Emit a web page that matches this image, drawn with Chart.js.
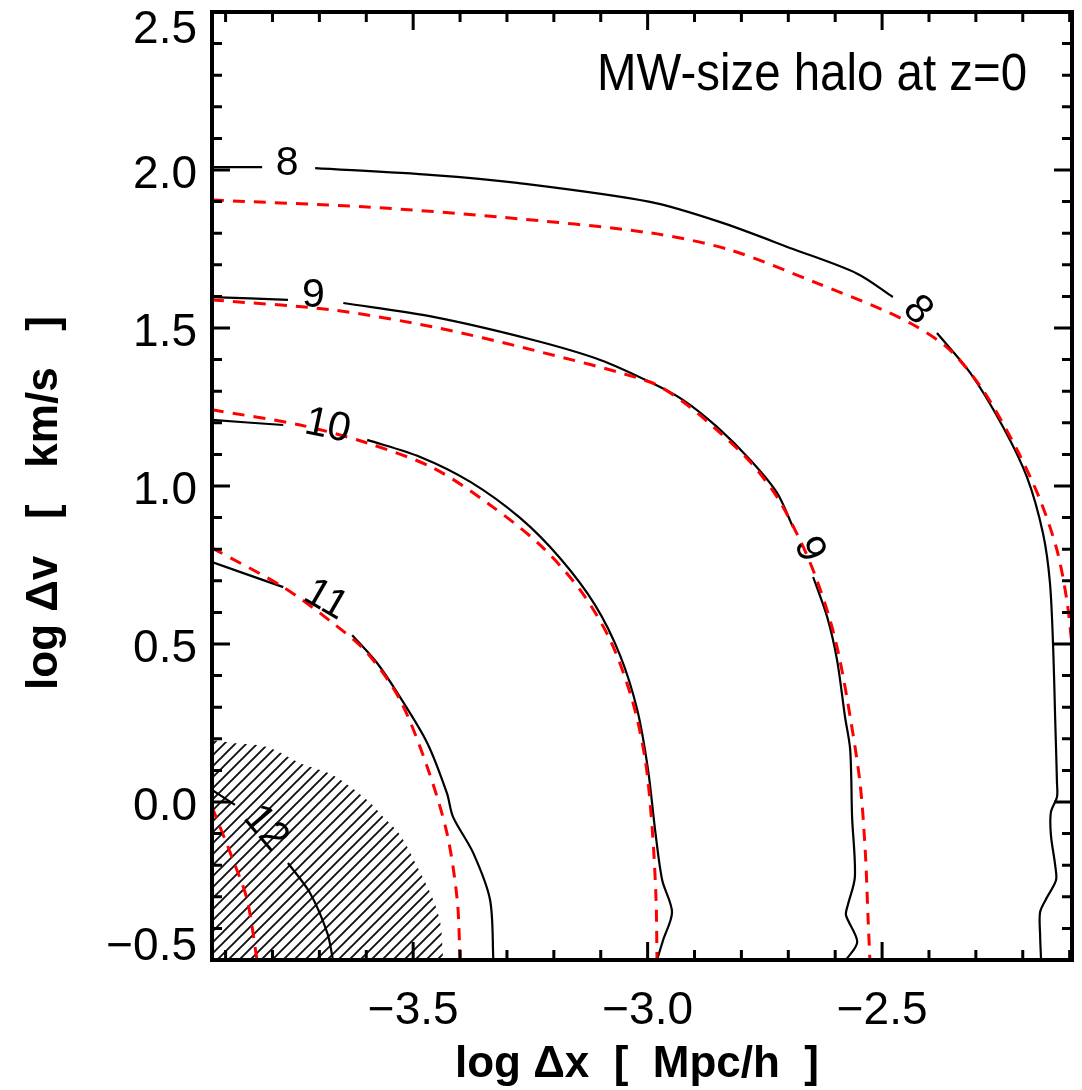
<!DOCTYPE html>
<html>
<head>
<meta charset="utf-8">
<script src="https://cdn.jsdelivr.net/npm/chart.js@4.4.1/dist/chart.umd.min.js"></script>
<style>
html,body{margin:0;padding:0;background:#fff;}
#wrap{width:1082px;height:1090px;position:relative;}
</style>
</head>
<body>
<div id="wrap"><canvas id="c" width="1082" height="1090"></canvas></div>
<script>
// ---------------- data ----------------
const xRange = [-3.929, -2.095];
const yRange = [-0.5, 2.5];
const xTickValues = [-3.5, -3.0, -2.5];
const yTickValues = [-0.5, 0.0, 0.5, 1.0, 1.5, 2.0, 2.5];
const xTitle = "log \u0394x  [  Mpc/h  ]";
const yTitle = "log \u0394v   [   km/s   ]";
const annotation = "MW-size halo at z=0";

// simulation contours (black, solid); null = gap left for the contour label
const sim8 = [[-3.929,2.009],[-3.822,2.009],null,
  [-3.709,2.006],[-3.457,1.984],[-3.278,1.959],[-2.995,1.899],[-2.845,1.835],[-2.690,1.750],[-2.553,1.672],[-2.477,1.598],null,
  [-2.383,1.484],[-2.312,1.358],[-2.242,1.187],[-2.191,1.028],[-2.157,0.851],[-2.142,0.693],[-2.135,0.481],[-2.131,0.269],
  [-2.127,0.060],[-2.127,0.016],[-2.140,-0.032],[-2.140,-0.104],[-2.131,-0.199],[-2.129,-0.247],[-2.148,-0.301],[-2.163,-0.348],[-2.163,-0.421],[-2.161,-0.5]];
const sim9 = [[-3.929,1.598],[-3.767,1.589],null,
  [-3.649,1.579],[-3.457,1.535],[-3.244,1.462],[-3.101,1.399],[-2.995,1.329],[-2.924,1.272],[-2.852,1.187],[-2.781,1.082],[-2.724,0.978],[-2.690,0.870],null,
  [-2.647,0.712],[-2.617,0.585],[-2.596,0.449],[-2.579,0.269],[-2.568,0.165],[-2.564,-0.047],[-2.558,-0.237],[-2.573,-0.326],[-2.577,-0.358],[-2.553,-0.443],[-2.577,-0.5]];
const sim10 = [[-3.929,1.209],[-3.777,1.193],null,
  [-3.598,1.146],[-3.485,1.092],[-3.378,1.013],[-3.272,0.899],[-3.187,0.772],[-3.112,0.623],[-3.059,0.465],[-3.022,0.291],
  [-2.999,0.101],[-2.984,-0.089],[-2.969,-0.247],[-2.948,-0.348],[-2.967,-0.437],[-2.980,-0.5]];
const sim11 = [[-3.929,0.759],[-3.777,0.680],null,
  [-3.630,0.528],[-3.577,0.440],[-3.528,0.332],[-3.470,0.187],[-3.428,0.028],[-3.415,-0.047],[-3.372,-0.161],[-3.336,-0.310],[-3.329,-0.5]];
const sim12 = [[-3.929,0.038],[-3.880,-0.009],null,
  [-3.767,-0.193],[-3.720,-0.288],[-3.683,-0.415],[-3.671,-0.5]];

// analytic contours (red, dashed)
const model8 = [[-3.929,1.905],[-3.598,1.883],[-3.315,1.851],[-2.995,1.801],[-2.824,1.747],[-2.639,1.642],[-2.498,1.557],[-2.425,1.503],
  [-2.355,1.430],[-2.285,1.304],[-2.212,1.114],[-2.163,0.956],[-2.127,0.797],[-2.106,0.639],[-2.095,0.497]];
const model9 = [[-3.929,1.589],[-3.671,1.557],[-3.457,1.503],[-3.244,1.430],[-2.995,1.329],[-2.924,1.266],[-2.852,1.177],[-2.781,1.076],
  [-2.724,0.965],[-2.675,0.829],[-2.643,0.718],[-2.611,0.576],[-2.590,0.449],[-2.568,0.269],[-2.547,0.060],[-2.536,-0.152],[-2.530,-0.364],[-2.526,-0.5]];
const model10 = [[-3.929,1.241],[-3.741,1.193],[-3.598,1.136],[-3.457,1.057],[-3.336,0.940],[-3.229,0.813],[-3.144,0.671],[-3.080,0.513],
  [-3.033,0.323],[-3.005,0.133],[-2.990,-0.089],[-2.982,-0.310],[-2.980,-0.5]];
const model11 = [[-3.929,0.804],[-3.777,0.680],[-3.671,0.566],[-3.598,0.472],[-3.528,0.323],[-3.470,0.111],[-3.428,-0.098],[-3.406,-0.310],[-3.400,-0.5]];
const model12 = [[-3.929,-0.016],[-3.884,-0.184],[-3.854,-0.310],[-3.833,-0.5]];

// hatched (unresolved) region boundary
const hatchEdge = [[-3.929,0.196],[-3.884,0.187],[-3.811,0.174],[-3.741,0.123],[-3.671,0.085],[-3.598,0.006],[-3.564,-0.047],
  [-3.528,-0.104],[-3.491,-0.206],[-3.457,-0.310],[-3.442,-0.383],[-3.436,-0.5]];

// contour labels: text, x, y, rotation (deg)
const contourLabels = [
  ["8", -3.769, 2.032, 0], ["8", -2.419, 1.563, 45],
  ["9", -3.713, 1.614, 0], ["9", -2.649, 0.804, 68],
  ["10", -3.681, 1.199, 12], ["11", -3.683, 0.649, 30], ["12", -3.809, -0.076, 50]
];

// ---------------- build chart ----------------
function segments(arr){
  const out=[]; let cur=[];
  arr.forEach(p=>{ if(p===null){ if(cur.length) out.push(cur); cur=[]; } else cur.push({x:p[0],y:p[1]}); });
  if(cur.length) out.push(cur);
  return out;
}
const datasets=[];
[sim8,sim9,sim10,sim11,sim12].forEach(c=>segments(c).forEach(seg=>datasets.push({
  data:seg, showLine:true, pointRadius:0, borderColor:'#000', borderWidth:2.2, tension:0.3, fill:false, order:1
})));
[model8,model9,model10,model11,model12].forEach(c=>segments(c).forEach(seg=>datasets.push({
  data:seg, showLine:true, pointRadius:0, borderColor:'rgb(255,0,0)', borderWidth:3, borderDash:[12,9], tension:0.3, fill:false, order:0
})));

function hatchPattern(){
  const s=11, cv=document.createElement('canvas'); cv.width=s; cv.height=s;
  const g=cv.getContext('2d'); g.strokeStyle='#111'; g.lineWidth=1.9;
  g.beginPath(); g.moveTo(-1,s+1); g.lineTo(s+1,-1); g.moveTo(-1,1); g.lineTo(1,-1); g.moveTo(s-1,s+1); g.lineTo(s+1,s-1); g.stroke();
  return g.createPattern(cv,'repeat');
}
datasets.push({
  data:hatchEdge.map(p=>({x:p[0],y:p[1]})), showLine:true, pointRadius:0, borderColor:'rgba(0,0,0,0)', borderWidth:0,
  backgroundColor:hatchPattern(), fill:'start', tension:0.3, order:2
});

function fmt(v){ return (v<0?'\u2212':'')+Math.abs(v).toFixed(1); }

const decor = {
  id:'decor',
  afterDatasetsDraw(chart){
    const {ctx, chartArea:{left,right,top,bottom}, scales:{x,y}} = chart;
    ctx.save();
    // frame
    ctx.strokeStyle='#000'; ctx.lineWidth=4;
    ctx.strokeRect(left,top,right-left,bottom-top);
    // inward ticks
    ctx.lineWidth=3; ctx.beginPath();
    for(let k=Math.ceil(x.min*10-1e-9); k<=Math.floor(x.max*10+1e-9); k++){
      const px=x.getPixelForValue(k/10), len=(k%5===0)?18:10;
      ctx.moveTo(px,bottom); ctx.lineTo(px,bottom-len);
      ctx.moveTo(px,top); ctx.lineTo(px,top+len);
    }
    for(let k=Math.ceil(y.min*10-1e-9); k<=Math.floor(y.max*10+1e-9); k++){
      const py=y.getPixelForValue(k/10), len=(k%5===0)?18:10;
      ctx.moveTo(left,py); ctx.lineTo(left+len,py);
      ctx.moveTo(right,py); ctx.lineTo(right-len,py);
    }
    ctx.stroke();
    // tick labels
    ctx.fillStyle='#000'; ctx.font='46px "Liberation Sans", Arial, sans-serif'; ctx.textBaseline='alphabetic';
    ctx.textAlign='center';
    x.ticks.forEach(t=>{ ctx.fillText(fmt(t.value), x.getPixelForValue(t.value), bottom+64); });
    ctx.textAlign='right';
    y.ticks.forEach(t=>{
      const b=Math.min(Math.max(y.getPixelForValue(t.value)+18, top+31), bottom);
      ctx.fillText(fmt(t.value), left-15, b);
    });
    // axis titles
    ctx.font='bold 44px "Liberation Sans", Arial, sans-serif';
    ctx.textAlign='center';
    ctx.fillText(xTitle, 637, 1077);
    ctx.save(); ctx.translate(57, 503); ctx.rotate(-Math.PI/2); ctx.fillText(yTitle, 0, 0); ctx.restore();
    // annotation
    ctx.font='51px "Liberation Sans", Arial, sans-serif'; ctx.textAlign='right';
    ctx.fillText(annotation, 1027, 90, 430);
    // contour labels
    ctx.font='41px "Liberation Sans", Arial, sans-serif'; ctx.textAlign='center';
    contourLabels.forEach(([s,vx,vy,rot])=>{
      ctx.save(); ctx.translate(x.getPixelForValue(vx), y.getPixelForValue(vy)); ctx.rotate(rot*Math.PI/180);
      ctx.fillText(s,0,0.36*41); ctx.restore();
    });
    ctx.restore();
  }
};

new Chart(document.getElementById('c'), {
  type:'scatter',
  data:{datasets},
  options:{
    responsive:false, animation:false, devicePixelRatio:1,
    layout:{padding:{left:212, top:12, right:10, bottom:130}},
    plugins:{legend:{display:false}, tooltip:{enabled:false}},
    scales:{
      x:{type:'linear', min:xRange[0], max:xRange[1],
         afterBuildTicks:s=>{ s.ticks=xTickValues.map(v=>({value:v})); },
         ticks:{display:false}, grid:{display:false, drawTicks:false}, border:{display:false}},
      y:{type:'linear', min:yRange[0], max:yRange[1],
         afterBuildTicks:s=>{ s.ticks=yTickValues.map(v=>({value:v})); },
         ticks:{display:false}, grid:{display:false, drawTicks:false}, border:{display:false}}
    }
  },
  plugins:[decor]
});
</script>
</body>
</html>
